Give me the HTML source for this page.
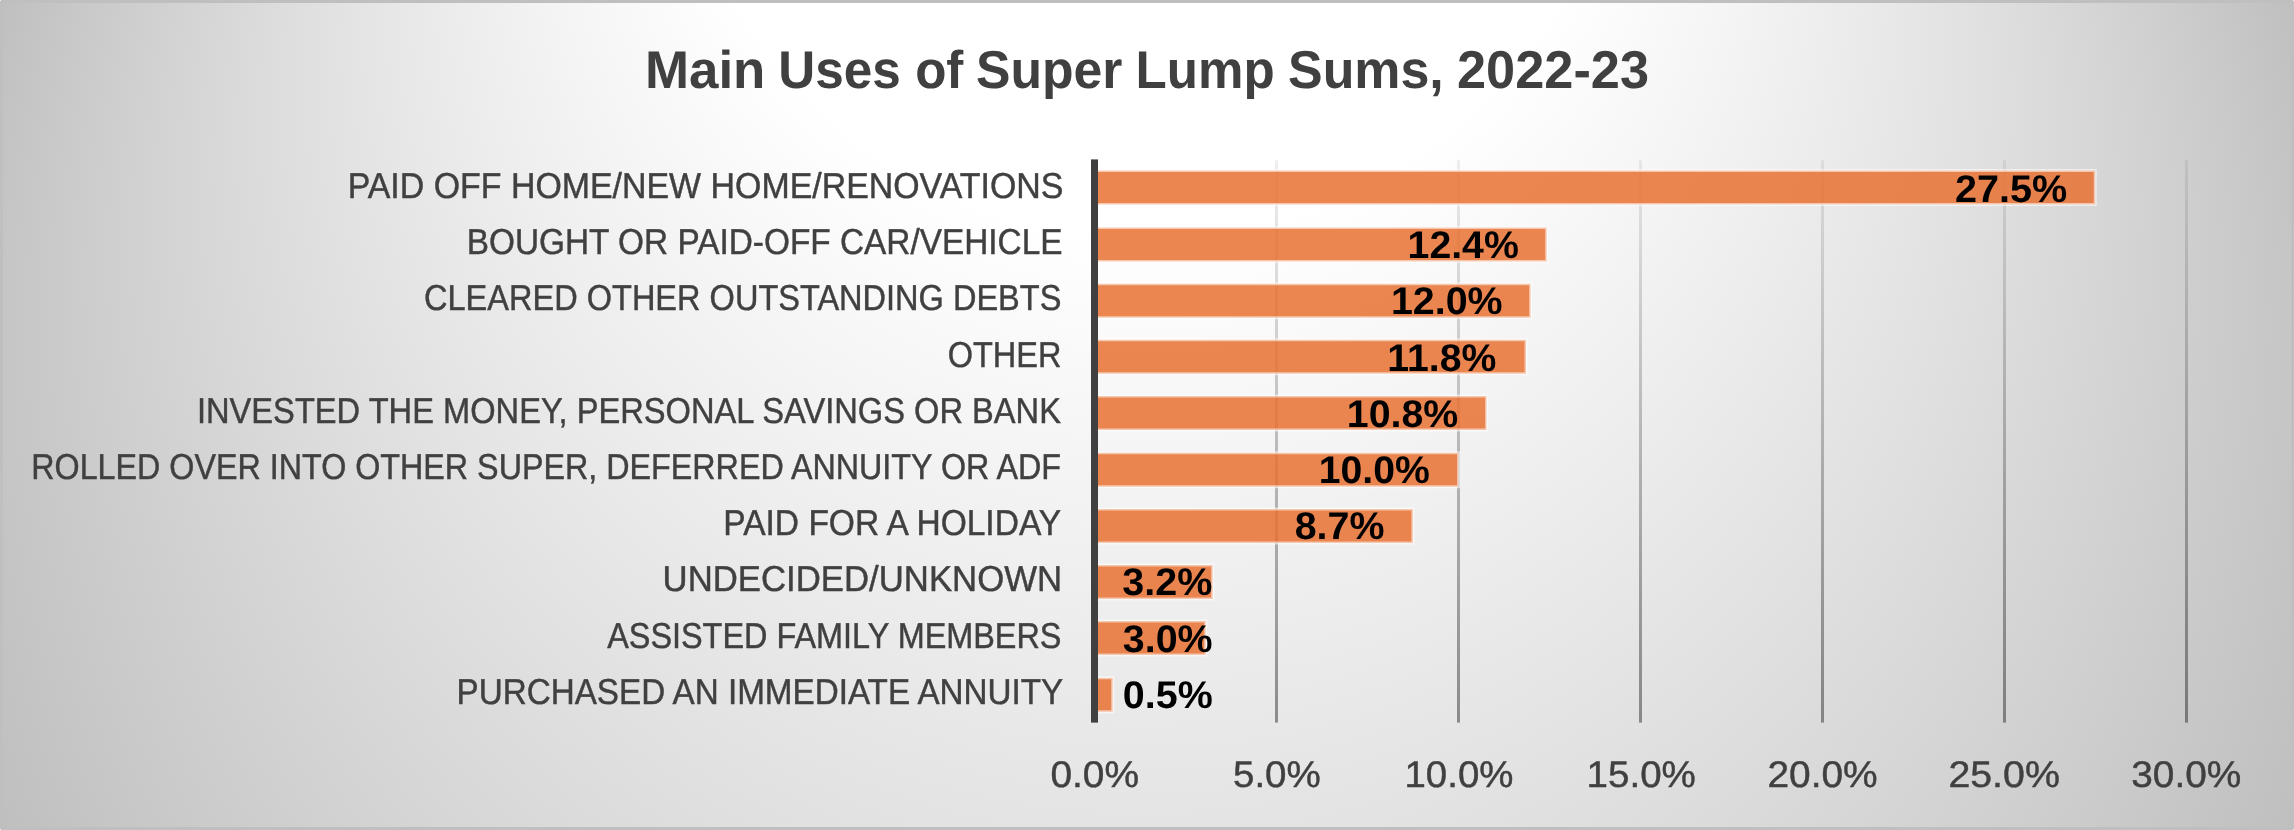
<!DOCTYPE html>
<html lang="en"><head><meta charset="utf-8"><title>Main Uses of Super Lump Sums, 2022-23</title>
<style>html,body{margin:0;padding:0;background:#bfbfbf;overflow:hidden}svg{display:block;will-change:transform}text{font-family:"Liberation Sans",sans-serif;text-rendering:geometricPrecision}.t{font-weight:700;fill:#404040;font-size:53.2px}.c{fill:#404040;stroke:#404040;stroke-width:.45px;font-size:36.0px}.d{font-weight:700;fill:#000;font-size:38.5px}.a{fill:#404040;stroke:#404040;stroke-width:.45px;font-size:37.0px}.b{fill:#e97132;fill-opacity:.85;stroke:#fff;stroke-opacity:.55;stroke-width:3}</style></head><body>
<svg width="2294" height="830" viewBox="0 0 2294 830">
<defs>
<radialGradient id="bg" gradientUnits="userSpaceOnUse" cx="1147.0" cy="415.0" r="1220.0" fx="1147.0" fy="-664.0"><stop offset="0" stop-color="#ffffff"/><stop offset="0.39" stop-color="#ffffff"/><stop offset="1.0" stop-color="#bfbfbf"/></radialGradient>
<linearGradient id="gl" x1="0" y1="0" x2="0" y2="1"><stop offset="0" stop-color="#000" stop-opacity=".065"/><stop offset="1" stop-color="#000" stop-opacity=".4"/></linearGradient>
</defs>
<rect x="0" y="0" width="2294" height="830" fill="#bfbfbf"/>
<rect x="3" y="3" width="2288" height="824" fill="url(#bg)"/>
<path d="M0 0h1v1H0zM2293 0h1v1h-1zM0 829h1v1H0zM2293 829h1v1h-1z" fill="#fff" fill-opacity=".85"/>
<g id="title">
<text class="t" x="644.95" y="87.5" textLength="120.45" lengthAdjust="spacingAndGlyphs">Main</text>
<text class="t" x="778.33" y="87.5" textLength="122.49" lengthAdjust="spacingAndGlyphs">Uses</text>
<text class="t" x="915.14" y="87.5" textLength="48.25" lengthAdjust="spacingAndGlyphs">of</text>
<text class="t" x="976.05" y="87.5" textLength="146.4" lengthAdjust="spacingAndGlyphs">Super</text>
<text class="t" x="1135.59" y="87.5" textLength="139.05" lengthAdjust="spacingAndGlyphs">Lump</text>
<text class="t" x="1288.05" y="87.5" textLength="155.67" lengthAdjust="spacingAndGlyphs">Sums,</text>
<text class="t" x="1457" y="87.5" textLength="192" lengthAdjust="spacingAndGlyphs">2022-23</text>
</g>
<rect x="1275" y="160.3" width="3" height="562.3" fill="url(#gl)"/>
<rect x="1457" y="160.3" width="3" height="562.3" fill="url(#gl)"/>
<rect x="1639" y="160.3" width="3" height="562.3" fill="url(#gl)"/>
<rect x="1821" y="160.3" width="3" height="562.3" fill="url(#gl)"/>
<rect x="2003" y="160.3" width="3" height="562.3" fill="url(#gl)"/>
<rect x="2185" y="160.3" width="3" height="562.3" fill="url(#gl)"/>
<path class="b" d="M1097 170.5H2095.25V204.5H1097"/>
<path class="b" d="M1097 227.5H1546.66V261.5H1097"/>
<path class="b" d="M1097 283.79H1530.65V317.79H1097"/>
<path class="b" d="M1097 339.77H1526.02V373.77H1097"/>
<path class="b" d="M1097 396.06H1486.62V430.06H1097"/>
<path class="b" d="M1097 452.65H1458.5V486.65H1097"/>
<path class="b" d="M1097 508.94H1412.88V542.94H1097"/>
<path class="b" d="M1097 565.03H1212.68V599.03H1097"/>
<path class="b" d="M1097 621.12H1205.7V655.12H1097"/>
<path class="b" d="M1097 677.87H1112.7V711.87H1097"/>
<rect x="1091" y="159.4" width="7" height="563.2" fill="#404040"/>
<g>
<text class="c" x="347.67" y="198" textLength="715.74" lengthAdjust="spacingAndGlyphs">PAID OFF HOME/NEW HOME/RENOVATIONS</text>
<text class="c" x="466.67" y="254.21" textLength="595.86" lengthAdjust="spacingAndGlyphs">BOUGHT OR PAID-OFF CAR/VEHICLE</text>
<text class="c" x="424.05" y="310.42" textLength="637.32" lengthAdjust="spacingAndGlyphs">CLEARED OTHER OUTSTANDING DEBTS</text>
<text class="c" x="947.7" y="366.63" textLength="113.79" lengthAdjust="spacingAndGlyphs">OTHER</text>
<text class="c" x="196.94" y="422.84" textLength="864.03" lengthAdjust="spacingAndGlyphs">INVESTED THE MONEY, PERSONAL SAVINGS OR BANK</text>
<text class="c" x="31.26" y="479.05" textLength="1029.8" lengthAdjust="spacingAndGlyphs">ROLLED OVER INTO OTHER SUPER, DEFERRED ANNUITY OR ADF</text>
<text class="c" x="723.32" y="535.26" textLength="337.8" lengthAdjust="spacingAndGlyphs">PAID FOR A HOLIDAY</text>
<text class="c" x="662.55" y="591.47" textLength="399.54" lengthAdjust="spacingAndGlyphs">UNDECIDED/UNKNOWN</text>
<text class="c" x="607.19" y="647.68" textLength="454.27" lengthAdjust="spacingAndGlyphs">ASSISTED FAMILY MEMBERS</text>
<text class="c" x="456.54" y="703.89" textLength="606.75" lengthAdjust="spacingAndGlyphs">PURCHASED AN IMMEDIATE ANNUITY</text>
</g>
<g>
<text class="d" x="1954.98" y="201.86" textLength="112.29" lengthAdjust="spacingAndGlyphs">27.5%</text>
<text class="d" x="1407.56" y="258.09" textLength="111.32" lengthAdjust="spacingAndGlyphs">12.4%</text>
<text class="d" x="1390.95" y="314.32" textLength="111.71" lengthAdjust="spacingAndGlyphs">12.0%</text>
<text class="d" x="1387.3" y="370.55" textLength="109" lengthAdjust="spacingAndGlyphs">11.8%</text>
<text class="d" x="1346.8" y="426.78" textLength="111.4" lengthAdjust="spacingAndGlyphs">10.8%</text>
<text class="d" x="1318.74" y="483.01" textLength="111.07" lengthAdjust="spacingAndGlyphs">10.0%</text>
<text class="d" x="1294.7" y="539.24" textLength="89.75" lengthAdjust="spacingAndGlyphs">8.7%</text>
<text class="d" x="1122.39" y="595.47" textLength="89.96" lengthAdjust="spacingAndGlyphs">3.2%</text>
<text class="d" x="1122.81" y="651.7" textLength="89.8" lengthAdjust="spacingAndGlyphs">3.0%</text>
<text class="d" x="1122.87" y="707.93" textLength="89.95" lengthAdjust="spacingAndGlyphs">0.5%</text>
</g>
<g>
<text class="a" x="1050.42" y="787.3" textLength="88.6" lengthAdjust="spacingAndGlyphs">0.0%</text>
<text class="a" x="1232.99" y="787.3" textLength="87.74" lengthAdjust="spacingAndGlyphs">5.0%</text>
<text class="a" x="1404.52" y="787.3" textLength="108.87" lengthAdjust="spacingAndGlyphs">10.0%</text>
<text class="a" x="1586.63" y="787.3" textLength="109.19" lengthAdjust="spacingAndGlyphs">15.0%</text>
<text class="a" x="1767.42" y="787.3" textLength="110.21" lengthAdjust="spacingAndGlyphs">20.0%</text>
<text class="a" x="1948.42" y="787.3" textLength="111.44" lengthAdjust="spacingAndGlyphs">25.0%</text>
<text class="a" x="2131.29" y="787.3" textLength="110.04" lengthAdjust="spacingAndGlyphs">30.0%</text>
</g>
</svg></body></html>
